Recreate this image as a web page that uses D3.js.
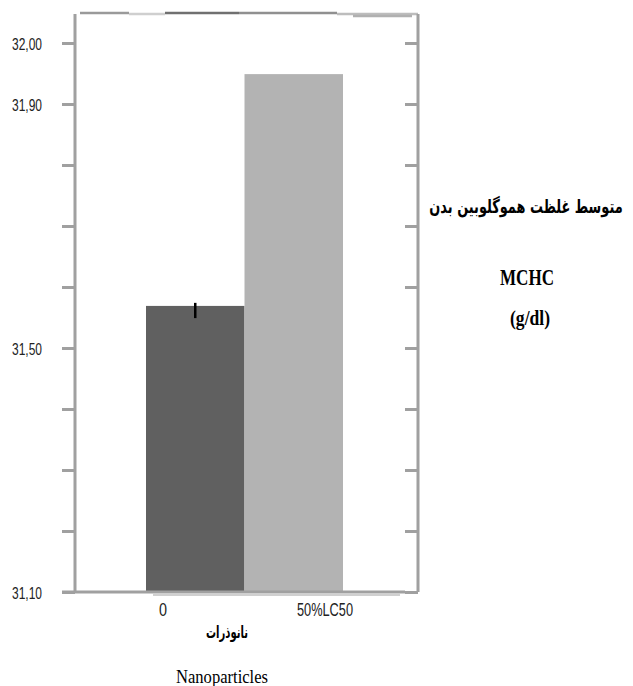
<!DOCTYPE html>
<html>
<head>
<meta charset="utf-8">
<script src="https://cdn.jsdelivr.net/npm/d3@7"></script>
<style>
  body { margin: 0; background: #fff; }
  svg { display: block; }
</style>
</head>
<body>
<div id="chart"></div>
<script>
// values
const categories = ["0", "50%LC50"];
const means = [31.569, 31.949];
const errLow = [31.549, null];
const errHigh = [31.574, null];
const tickValues = [31.1, 31.2, 31.3, 31.4, 31.5, 31.6, 31.7, 31.8, 31.9, 32.0];
const labeledTicks = ["31,10", "31,50", "31,90", "32,00"];
const barColors = ["#606060", "#b3b3b3"];

const W = 633, H = 686;
const axisColor = "#a0a0a0";
const narrow = "'Liberation Sans Narrow', 'Liberation Sans', Arial, sans-serif";

const svg = d3.select("#chart").append("svg")
    .attr("width", W)
    .attr("height", H);

// scales
const y = d3.scaleLinear()
    .domain([31.1, 32.0])
    .range([592, 43]);

const x = d3.scaleBand()
    .domain(categories)
    .range([146, 343])
    .padding(0);

// labels of the categories sit left of the bars in the original
const xLabel = d3.scalePoint()
    .domain(categories)
    .range([163, 325]);

const fmt = d => d.toFixed(2).replace(".", ",");

// top frame line, drawn in pieces of different grey like the scan
const topSegs = [
    [80, 129, 13, "#9a9a9a"], [129, 165, 14, "#cfcfcf"], [165, 239, 13, "#707070"],
    [239, 337, 13, "#909090"], [337, 418, 14, "#bdbdbd"], [353, 412, 16, "#b0b0b0"]
];
svg.selectAll(".topseg")
    .data(topSegs)
    .enter()
    .append("line")
    .attr("x1", d => d[0]).attr("x2", d => d[1])
    .attr("y1", d => d[2]).attr("y2", d => d[2])
    .attr("stroke", d => d[3]).attr("stroke-width", 2.5);

// left axis
const leftAxis = svg.append("g")
    .attr("transform", "translate(75,0)")
    .call(d3.axisLeft(y).tickValues(tickValues).tickSize(13).tickSizeOuter(0)
        .tickFormat(d => labeledTicks.includes(fmt(d)) ? fmt(d) : ""));
leftAxis.select(".domain").remove();
leftAxis.selectAll(".tick line")
    .attr("stroke", axisColor).attr("stroke-width", 3);
leftAxis.selectAll(".tick text")
    .attr("x", -33)
    .attr("dy", "0.36em")
    .attr("fill", "#222")
    .attr("textLength", 30)
    .attr("lengthAdjust", "spacingAndGlyphs")
    .style("font-family", narrow)
    .style("font-size", "17px");
leftAxis.append("line")
    .attr("x1", 0).attr("x2", 0)
    .attr("y1", 14).attr("y2", y(31.1))
    .attr("stroke", axisColor).attr("stroke-width", 3);

// right axis
const rightAxis = svg.append("g")
    .attr("transform", "translate(418,0)")
    .call(d3.axisLeft(y).tickValues(tickValues).tickSize(13).tickFormat(""));
rightAxis.select(".domain").remove();
rightAxis.selectAll(".tick line")
    .attr("stroke", axisColor).attr("stroke-width", 3);
rightAxis.append("line")
    .attr("x1", 0).attr("x2", 0)
    .attr("y1", 14).attr("y2", y(31.1))
    .attr("stroke", axisColor).attr("stroke-width", 3);

// bars
svg.selectAll(".bar")
    .data(categories)
    .enter()
    .append("rect")
    .attr("class", "bar")
    .attr("x", d => x(d))
    .attr("y", (d, i) => y(means[i]))
    .attr("width", x.bandwidth())
    .attr("height", (d, i) => y(31.1) - y(means[i]))
    .attr("fill", (d, i) => barColors[i]);

// error bar
svg.selectAll(".err")
    .data(categories.filter((d, i) => errLow[i] != null))
    .enter()
    .append("line")
    .attr("class", "err")
    .attr("x1", d => x(d) + x.bandwidth() / 2)
    .attr("x2", d => x(d) + x.bandwidth() / 2)
    .attr("y1", d => y(errHigh[categories.indexOf(d)]))
    .attr("y2", d => y(errLow[categories.indexOf(d)]))
    .attr("stroke", "#000").attr("stroke-width", 2.5);

// baseline
svg.append("line")
    .attr("x1", 62).attr("x2", 405)
    .attr("y1", 592).attr("y2", 592)
    .attr("stroke", axisColor).attr("stroke-width", 3);
svg.append("line")
    .attr("x1", 153).attr("x2", 400)
    .attr("y1", 595).attr("y2", 595)
    .attr("stroke", "#d0d0d0").attr("stroke-width", 2);

// category labels
svg.selectAll(".xlabel")
    .data(categories)
    .enter()
    .append("text")
    .attr("class", "xlabel")
    .attr("x", d => xLabel(d))
    .attr("y", 616)
    .attr("text-anchor", "middle")
    .attr("fill", "#222")
    .attr("textLength", d => d.length * 8)
    .attr("lengthAdjust", "spacingAndGlyphs")
    .style("font-family", narrow)
    .style("font-size", "19px")
    .text(d => d);

// x title
svg.append("text")
    .attr("x", 227).attr("y", 638)
    .attr("text-anchor", "middle")
    .attr("textLength", 42)
    .attr("lengthAdjust", "spacingAndGlyphs")
    .style("font-family", "'DejaVu Sans', 'Noto Sans', sans-serif")
    .style("font-weight", "bold")
    .style("font-size", "17px")
    .text("نانوذرات");

svg.append("text")
    .attr("x", 222).attr("y", 683)
    .attr("text-anchor", "middle")
    .attr("textLength", 92)
    .attr("lengthAdjust", "spacingAndGlyphs")
    .style("font-family", "'Liberation Serif', serif")
    .style("font-size", "18px")
    .text("Nanoparticles");

// y title on the right, squeezed sideways like the scan
svg.append("text")
    .attr("transform", "translate(526,213) scale(0.68,1)")
    .attr("text-anchor", "middle")
    .style("font-family", "'DejaVu Sans', 'Noto Sans', sans-serif")
    .style("font-weight", "bold")
    .style("font-size", "19px")
    .text("متوسط غلظت هموگلوبین بدن");

svg.append("text")
    .attr("x", 527).attr("y", 285)
    .attr("text-anchor", "middle")
    .attr("textLength", 54)
    .attr("lengthAdjust", "spacingAndGlyphs")
    .style("font-family", "'Liberation Serif', serif")
    .style("font-weight", "bold")
    .style("font-size", "23px")
    .text("MCHC");

svg.append("text")
    .attr("x", 530).attr("y", 325)
    .attr("text-anchor", "middle")
    .attr("textLength", 40)
    .attr("lengthAdjust", "spacingAndGlyphs")
    .style("font-family", "'Liberation Serif', serif")
    .style("font-weight", "bold")
    .style("font-size", "21px")
    .text("(g/dl)");
</script>
</body>
</html>
